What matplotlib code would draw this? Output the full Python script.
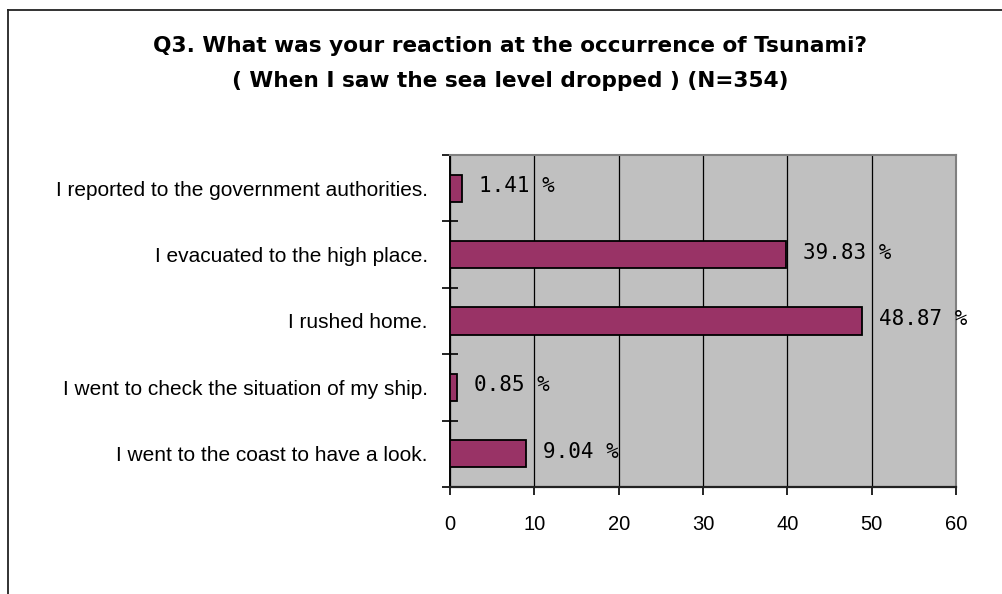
import matplotlib
matplotlib.use("Agg")
import matplotlib.pyplot as plt
from matplotlib.lines import Line2D

# data (top to bottom)
categories = [
    "I reported to the government authorities.",
    "I evacuated to the high place.",
    "I rushed home.",
    "I went to check the situation of my ship.",
    "I went to the coast to have a look.",
]
percent = [1.41, 39.83, 48.87, 0.85, 9.04]
x_ticks = [0, 10, 20, 30, 40, 50, 60]

title_1 = "Q3. What was your reaction at the occurrence of Tsunami?"
title_2 = "( When I saw the sea level dropped ) (N=354)"

sans = ["Liberation Sans", "DejaVu Sans"]

fig = plt.figure(figsize=(10.03, 5.94), dpi=100)
fig.patch.set_facecolor("white")

# outer chart frame (only left and top edges are visible)
fig.add_artist(Line2D([8 / 1003, 8 / 1003], [0, 1 - 10 / 594],
                      transform=fig.transFigure, color="#222222", lw=1.3))
fig.add_artist(Line2D([8 / 1003, 1], [1 - 10 / 594, 1 - 10 / 594],
                      transform=fig.transFigure, color="#222222", lw=1.3))

ax = fig.add_axes([450 / 1003, 1 - 487 / 594, 506 / 1003, 332 / 594])
ax.set_facecolor("#C0C0C0")

pos = list(range(len(categories)))
ax.barh(pos, percent, height=0.41, color="#993366", edgecolor="black",
        linewidth=1.3, zorder=3)

for p, v in zip(pos, percent):
    ax.annotate(f"{v:.2f} %", xy=(v, p), xytext=(12, 1.5),
                textcoords="offset points", va="center", ha="left",
                fontsize=15, family=["DejaVu Sans Mono"], color="black")

ax.set_xlim(0, 60)
ax.set_ylim(len(categories) - 0.5, -0.5)
ax.set_xticks(x_ticks)
ax.set_xticklabels([str(t) for t in x_ticks], family=sans, fontsize=14.5)
ax.tick_params(axis="x", direction="out", length=6, width=1.2, pad=14)

# category labels, with the ticks drawn on the category boundaries
ax.set_yticks(pos)
ax.set_yticklabels(categories, family=sans, fontsize=15)
ax.tick_params(axis="y", length=0, pad=16)
ax.set_yticks([p + 0.5 for p in [-1] + pos], minor=True)
ax.tick_params(axis="y", which="minor", direction="inout", length=12, width=1.2)

ax.xaxis.grid(True, color="black", lw=0.9)
for gl in ax.get_xgridlines():
    gl.set_zorder(2)

ax.spines["left"].set_color("black")
ax.spines["left"].set_linewidth(1.4)
ax.spines["bottom"].set_color("#222222")
ax.spines["bottom"].set_linewidth(1.6)
ax.spines["top"].set_color("#808080")
ax.spines["right"].set_color("#808080")
ax.spines["top"].set_linewidth(1.5)
ax.spines["right"].set_linewidth(1.5)

fig.text(510 / 1003, 1 - 52 / 594, title_1, ha="center", va="baseline",
         fontsize=15.6, fontweight="bold", family=["DejaVu Sans"])
fig.text(510 / 1003, 1 - 87 / 594, title_2, ha="center", va="baseline",
         fontsize=15.6, fontweight="bold", family=["DejaVu Sans"])

fig.savefig("out.png", dpi=100)
